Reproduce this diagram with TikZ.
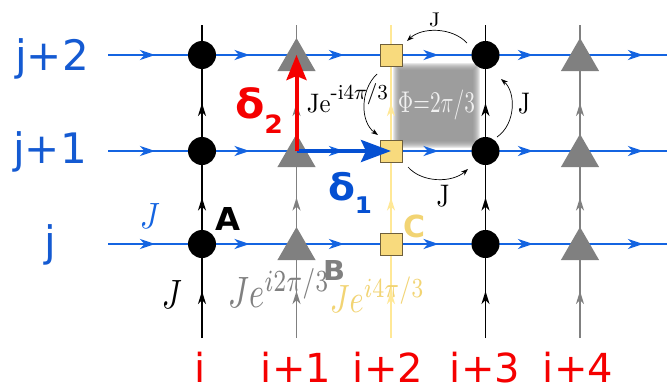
\documentclass[tikz,border=0pt]{standalone}
\usepackage{fontspec}
\usepackage{graphicx}
\newfontfamily\dvs{DejaVu Sans}
\usetikzlibrary{arrows.meta,decorations.markings,shapes.geometric}
\definecolor{lblue}{RGB}{20,100,225}
\definecolor{tblue}{RGB}{20,90,210}
\definecolor{dblue}{RGB}{5,80,210}
\definecolor{lred}{RGB}{245,0,0}
\definecolor{sgray}{RGB}{128,128,128}
\definecolor{sqfill}{RGB}{248,218,125}
\definecolor{sqdraw}{RGB}{110,95,60}
\definecolor{vyel}{RGB}{255,232,150}
\definecolor{tyel}{RGB}{242,212,115}
\tikzset{
 htip/.tip={Stealth[length=15pt,width=10pt,inset=4.5pt]},
 vtip/.tip={Stealth[length=13pt,width=8pt,inset=4pt]},
 hline/.style={color=lblue,line width=2.4pt,postaction={decorate},decoration={markings,
    mark=at position 47pt with {\arrow{htip}},
    mark=at position 141.5pt with {\arrow{htip}},
    mark=at position 236pt with {\arrow{htip}},
    mark=at position 330.5pt with {\arrow{htip}},
    mark=at position 425pt with {\arrow{htip}},
    mark=at position 535pt with {\arrow{htip}}}},
 vline/.style={line width=1.6pt,postaction={decorate},decoration={markings,
    mark=at position 47pt with {\arrow{vtip}},
    mark=at position 140.5pt with {\arrow{vtip}},
    mark=at position 235pt with {\arrow{vtip}}}},
 asite/.style={circle,fill=black,minimum size=28pt,inner sep=0pt},
 bsite/.style={regular polygon,regular polygon sides=3,fill=sgray,minimum size=44pt,inner sep=0pt,yshift=-5pt},
 csite/.style={rectangle,fill=sqfill,draw=sqdraw,line width=0.6pt,minimum size=22pt,inner sep=0pt},
 rowlab/.style={font=\dvs\fontsize{42}{42}\selectfont,text=tblue,anchor=base,inner sep=0pt},
 collab/.style={font=\dvs\fontsize{40}{40}\selectfont,text=lred,anchor=base,inner sep=0pt},
 hop/.style={-{Stealth[length=7pt,width=5pt]},line width=0.7pt,black},
 lab/.style={inner sep=0pt,anchor=center},
}
\begin{document}
\begin{tikzpicture}[x=1pt,y=-1pt]
\fill[white] (0,0) rectangle (667,391);
\useasboundingbox (0,0) rectangle (667,391);
% lattice points
\foreach \c in {0,...,4}{
  \foreach \r/\yy in {0/244,1/151,2/55}{
    \coordinate (p\c\r) at ({202+94.5*\c},\yy);
  }
  \coordinate (vb\c) at ({202+94.5*\c},338);
  \coordinate (vt\c) at ({202+94.5*\c},25);
}
\foreach \r/\yy in {0/244,1/151,2/55}{
  \coordinate (hl\r) at (108,\yy);
  \coordinate (hr\r) at (667,\yy);
}
% blurred plaquette
\foreach \k in {0,...,7}{
  \fill[black!45,opacity=0.2] ({393+\k},{63+\k}) rectangle ({480-\k},{148-\k});
}
% vertical bonds
\draw[vline,color=black] (vb0) -- (vt0);
\draw[vline,color=sgray] (vb1) -- (vt1);
\draw[vline,color=vyel] (vb2) -- (vt2);
\draw[vline,color=black] (vb3) -- (vt3);
\draw[vline,color=sgray] (vb4) -- (vt4);
% horizontal bonds
\foreach \r in {0,1,2}{ \draw[hline] (hl\r) -- (hr\r); }
% sites
\foreach \r in {0,1,2}{
  \node[asite] (A0\r) at (p0\r) {};
  \node[bsite] (B1\r) at (p1\r) {};
  \node[csite] (C2\r) at (p2\r) {};
  \node[asite] (A3\r) at (p3\r) {};
  \node[bsite] (B4\r) at (p4\r) {};
}
% lattice vectors
\draw[dblue,line width=3.8pt,-{Stealth[length=30pt,width=22pt,inset=5pt]}] (p11) -- (p21);
\draw[lred,line width=4pt,-{Stealth[length=25pt,width=20pt,inset=4pt]}] (p11) -- (p12);
% hopping circulation
\coordinate (t1) at (467,43); \coordinate (t2) at (407,41);
\draw[hop] (t1) .. controls (452,27) and (422,27) .. (t2);
\coordinate (r1) at (497,137); \coordinate (r2) at (501,79);
\draw[hop] (r1) .. controls (516,124) and (516,92) .. (r2);
\coordinate (b1) at (408,167); \coordinate (b2) at (468,169);
\draw[hop] (b1) .. controls (422,183) and (452,183) .. (b2);
\coordinate (l1) at (377,74); \coordinate (l2) at (378,135);
\draw[hop] (l1) .. controls (360,90) and (360,122) .. (l2);
% labels
\node[lab] (Jtop) at (434.5,20) {\resizebox*{11pt}{14pt}{J}};
\node[lab] (Jright) at (524,104) {\resizebox*{12pt}{21pt}{J}};
\node[lab] (Jbot) at (443,196) {\resizebox*{13pt}{22pt}{J}};
\node[lab] (Jm) at (347.5,98) {\resizebox*{81pt}{30pt}{Je\raisebox{0.5em}{\fontsize{8}{8}\selectfont -i4$\pi$/3}}};
\node[lab,text=white!94!black] (phi) at (436.5,105) {\resizebox*{77pt}{30pt}{$\Phi{=}2\pi/3$}};
\node[lab,text=sgray] (JB) at (279,287.5) {\resizebox*{102pt}{39pt}{$Je^{i2\pi/3}$}};
\node[lab,text=tyel] (JC) at (377.5,294.5) {\resizebox*{95pt}{35pt}{$Je^{i4\pi/3}$}};
\node[lab,text=lblue] (Jh) at (150,215.5) {\resizebox*{20pt}{25pt}{$J$}};
\node[lab,text=black] (Jv) at (172,294) {\resizebox*{20pt}{28pt}{$J$}};
\node[lab,text=black] (lA) at (227.5,218.5) {\resizebox*{25pt}{23pt}{\dvs\bfseries A}};
\node[lab,text=sgray] (lB) at (334,270) {\resizebox*{22pt}{20pt}{\dvs\bfseries B}};
\node[lab,text=tyel] (lC) at (414,226.5) {\resizebox*{22pt}{23pt}{\dvs\bfseries C}};
\node[lab,text=lred] (d2) at (259,110.5) {\resizebox*{48pt}{45pt}{\dvs\bfseries\fontsize{40}{40}\selectfont δ\raisebox{-14pt}{\fontsize{25}{25}\selectfont 2}}};
\node[lab,text=dblue] (d1) at (350,192.5) {\resizebox*{44pt}{41pt}{\dvs\bfseries\fontsize{40}{40}\selectfont δ\raisebox{-14pt}{\fontsize{25}{25}\selectfont 1}}};
% axis labels
\node[rowlab] (rj2) at (52,70) {j+2};
\node[rowlab] (rj1) at (50,163) {j+1};
\node[rowlab] (rj0) at (50,256) {j};
\node[collab] (ci0) at (200,382) {i};
\node[collab] (ci1) at (296,382) {i+1};
\node[collab] (ci2) at (388,382) {i+2};
\node[collab] (ci3) at (485,382) {i+3};
\node[collab] (ci4) at (578,382) {i+4};
\end{tikzpicture}
\end{document}
